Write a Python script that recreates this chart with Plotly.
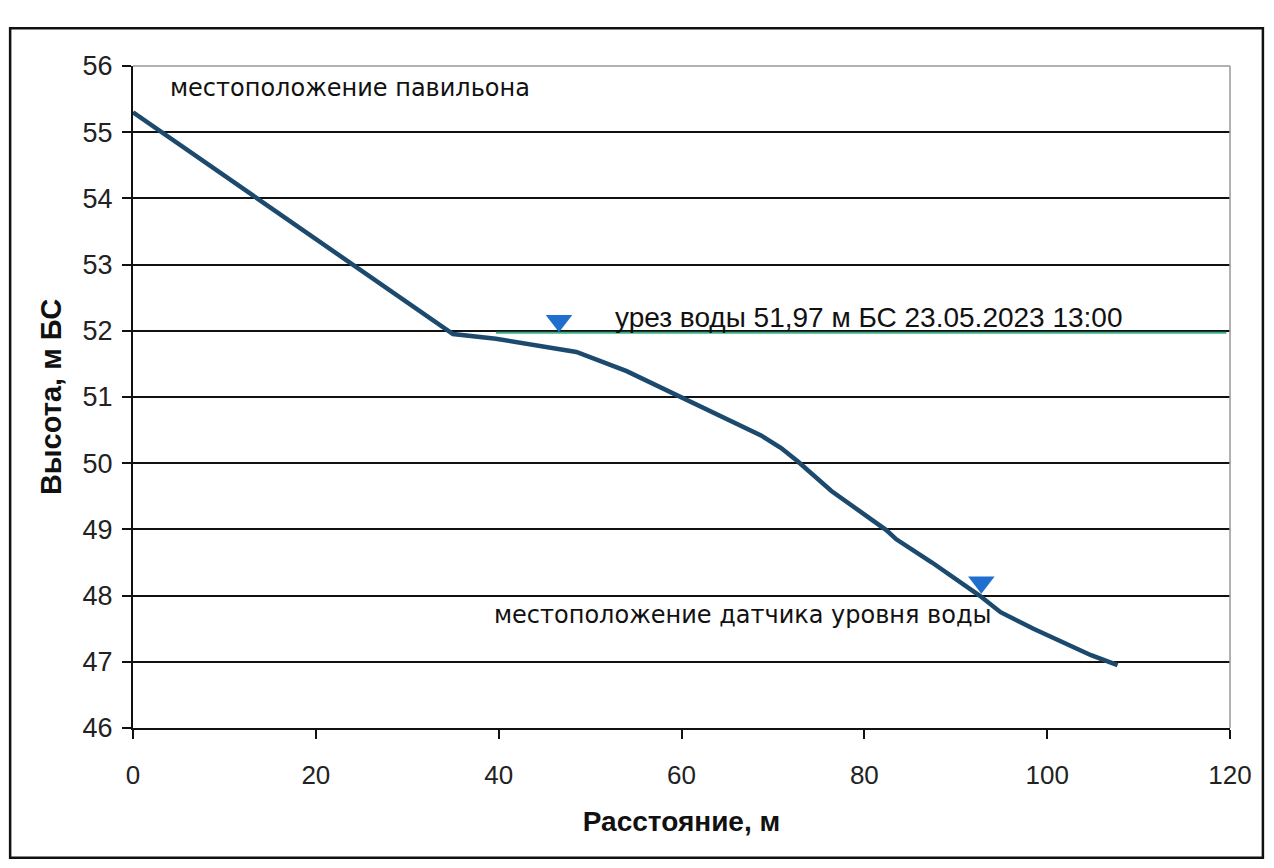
import plotly.graph_objects as go

# ---- data ----
distance_m = [0, 13.3, 24.3, 35.0, 39.7, 46.6, 48.5, 54.0, 60.3, 68.7, 70.9, 72.7,
              76.4, 82.4, 83.5, 87.4, 92.6, 94.9, 98.5, 102.3, 104.8, 107.7]
elevation_m = [55.3, 54.03, 52.97, 51.95, 51.88, 51.73, 51.68, 51.39, 50.98, 50.42, 50.23, 50.03,
               49.58, 48.99, 48.85, 48.5, 48.0, 47.75, 47.5, 47.26, 47.1, 46.95]

water_x = [39.7, 119.6]
water_y = [51.97, 51.97]

marker_x = [46.6, 92.8]
marker_y = [52.15, 48.2]

x_ticks = [0, 20, 40, 60, 80, 100, 120]
y_ticks = [46, 47, 48, 49, 50, 51, 52, 53, 54, 55, 56]

labels = [
    ("местоположение павильона", 3.8, 55.67, "DejaVu Sans, sans-serif", 24),
    ("урез воды 51,97 м БС 23.05.2023 13:00", 52.5, 52.2, "Liberation Sans, Arial, sans-serif", 28),
    ("местоположение датчика уровня воды", 39.3, 47.71, "DejaVu Sans, sans-serif", 24),
]

TICKFONT = "Liberation Sans, Arial, sans-serif"

fig = go.Figure()
fig.add_trace(go.Scatter(x=water_x, y=water_y, mode="lines",
                         line=dict(color="#3aae85", width=2), hoverinfo="skip"))
fig.add_trace(go.Scatter(x=distance_m, y=elevation_m, mode="lines",
                         line=dict(color="#1b4a6e", width=4.5)))
fig.add_trace(go.Scatter(x=marker_x, y=marker_y, mode="markers",
                         marker=dict(symbol="triangle-down", size=23, color="#1f6fcf",
                                     line=dict(width=0))))

for text, x, y, fam, sz in labels:
    fig.add_annotation(x=x, y=y, xref="x", yref="y", text=text, showarrow=False,
                       xanchor="left", yanchor="middle",
                       font=dict(family=fam, size=sz, color="#111"))

# outer frame of the chart
fig.add_shape(type="rect", xref="paper", yref="paper", x0=-0.112, x1=1.030, y0=-0.196, y1=1.057,
              line=dict(color="#111", width=2.5), fillcolor="rgba(0,0,0,0)", layer="below")

fig.update_layout(
    width=1274, height=868,
    margin=dict(l=125, r=52, t=58, b=148),
    paper_bgcolor="white", plot_bgcolor="white",
    showlegend=False,
    font=dict(family=TICKFONT, color="#111"),
)
fig.update_xaxes(
    range=[0, 120], tickvals=x_ticks, ticks="outside", ticklen=9, tickwidth=1.5, tickcolor="#111",
    showgrid=False, zeroline=False, showline=True, linecolor="#111", linewidth=2,
    ticklabelstandoff=14,
    tickfont=dict(size=26, family=TICKFONT, color="#222"),
    title=dict(text="<b>Расстояние, м</b>", font=dict(size=28, family=TICKFONT, color="#111"), standoff=22),
)
fig.update_yaxes(
    range=[46, 56], tickvals=y_ticks, ticks="outside", ticklen=9, tickwidth=1.5, tickcolor="#111",
    showgrid=True, gridcolor="#111", gridwidth=2, zeroline=False,
    showline=True, linecolor="#111", linewidth=2,
    ticklabelstandoff=4,
    tickfont=dict(size=27, family=TICKFONT, color="#222"),
    title=dict(text="<b>Высота, м БС</b>", font=dict(size=29, family=TICKFONT, color="#111"), standoff=12),
)
# thin grey plot-area border on top and right
fig.add_shape(type="line", xref="paper", yref="paper", x0=0, x1=1, y0=1, y1=1,
              line=dict(color="#999", width=1.5))
fig.add_shape(type="line", xref="paper", yref="paper", x0=1, x1=1, y0=0, y1=1,
              line=dict(color="#999", width=1.5))

fig.write_html("out.html")
